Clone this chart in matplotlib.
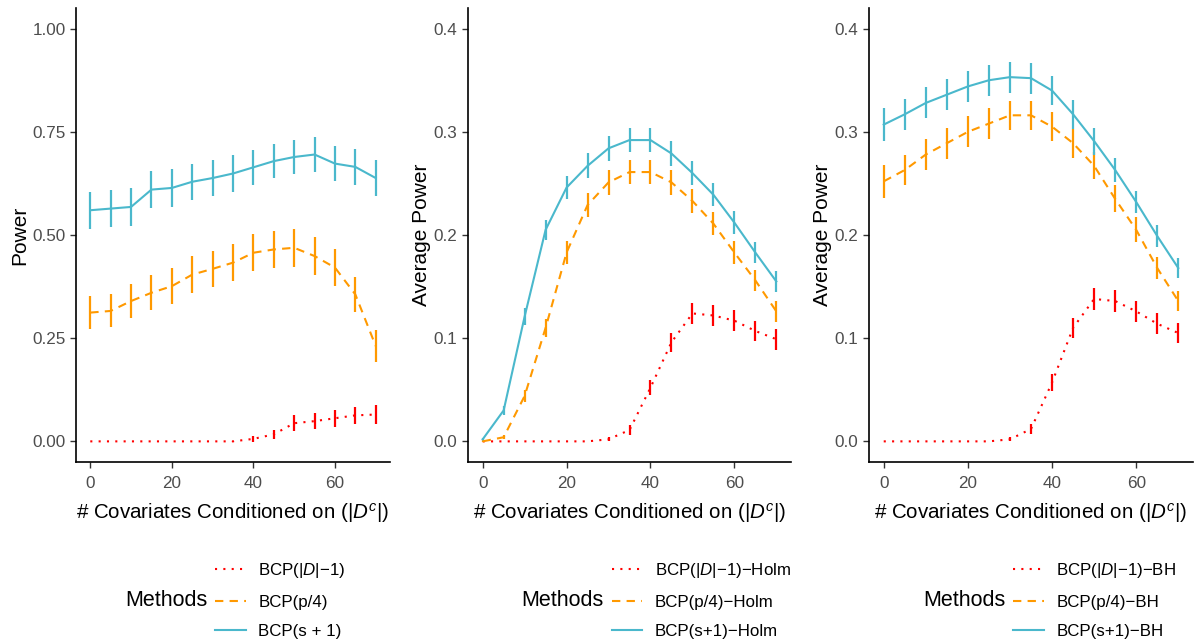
import matplotlib
matplotlib.use('Agg')
import matplotlib.pyplot as plt
from matplotlib.lines import Line2D

plt.rcParams['font.family'] = ['Liberation Sans', 'DejaVu Sans']
plt.rcParams['mathtext.fontset'] = 'custom'
plt.rcParams['mathtext.rm'] = 'Liberation Sans'
plt.rcParams['mathtext.it'] = 'Liberation Sans:italic'

x = [0, 5, 10, 15, 20, 25, 30, 35, 40, 45, 50, 55, 60, 65, 70]

# panel 1: Power
p1_red = [0, 0, 0, 0, 0, 0, 0, 0, 0.006, 0.017, 0.044, 0.049, 0.056, 0.063, 0.065]
p1_red_err = [0, 0, 0, 0, 0, 0, 0, 0.002, 0.008, 0.011, 0.02, 0.019, 0.02, 0.021, 0.022]
p1_orange = [0.312, 0.316, 0.340, 0.360, 0.376, 0.404, 0.418, 0.433, 0.457, 0.465, 0.469, 0.449, 0.421, 0.356, 0.231]
p1_orange_err = [0.04, 0.04, 0.042, 0.042, 0.043, 0.044, 0.044, 0.045, 0.045, 0.045, 0.046, 0.045, 0.045, 0.043, 0.038]
p1_blue = [0.560, 0.564, 0.568, 0.610, 0.614, 0.629, 0.638, 0.649, 0.664, 0.679, 0.689, 0.695, 0.673, 0.665, 0.638]
p1_blue_err = [0.045, 0.045, 0.045, 0.045, 0.045, 0.044, 0.044, 0.044, 0.043, 0.042, 0.042, 0.042, 0.043, 0.043, 0.044]

# panel 2: Holm
p2_red = [0, 0, 0, 0, 0, 0, 0.002, 0.011, 0.052, 0.096, 0.124, 0.122, 0.117, 0.107, 0.099]
p2_red_err = [0, 0, 0, 0, 0, 0, 0.002, 0.005, 0.007, 0.009, 0.01, 0.01, 0.01, 0.01, 0.01]
p2_orange = [0.0, 0.004, 0.044, 0.110, 0.183, 0.229, 0.251, 0.261, 0.261, 0.251, 0.233, 0.211, 0.183, 0.156, 0.126]
p2_orange_err = [0.001, 0.002, 0.006, 0.009, 0.011, 0.012, 0.012, 0.012, 0.012, 0.012, 0.012, 0.011, 0.011, 0.01, 0.01]
p2_blue = [0.002, 0.030, 0.121, 0.205, 0.246, 0.267, 0.284, 0.292, 0.292, 0.279, 0.260, 0.239, 0.212, 0.183, 0.155]
p2_blue_err = [0.001, 0.004, 0.008, 0.01, 0.011, 0.012, 0.012, 0.012, 0.012, 0.012, 0.012, 0.011, 0.011, 0.01, 0.01]

# panel 3: BH
p3_red = [0, 0, 0, 0, 0, 0, 0.002, 0.012, 0.057, 0.110, 0.138, 0.136, 0.126, 0.114, 0.105]
p3_red_err = [0, 0, 0, 0, 0, 0, 0.002, 0.005, 0.008, 0.01, 0.011, 0.011, 0.01, 0.01, 0.01]
p3_orange = [0.252, 0.263, 0.278, 0.289, 0.300, 0.308, 0.316, 0.316, 0.305, 0.289, 0.267, 0.235, 0.205, 0.168, 0.136]
p3_orange_err = [0.016, 0.015, 0.015, 0.015, 0.015, 0.015, 0.014, 0.014, 0.014, 0.014, 0.013, 0.013, 0.012, 0.011, 0.01]
p3_blue = [0.307, 0.317, 0.328, 0.336, 0.344, 0.350, 0.353, 0.352, 0.340, 0.317, 0.291, 0.263, 0.232, 0.199, 0.168]
p3_blue_err = [0.016, 0.015, 0.015, 0.015, 0.015, 0.015, 0.015, 0.015, 0.014, 0.014, 0.013, 0.012, 0.011, 0.011, 0.01]

labels1 = ['BCP(|$D$|\u22121)', 'BCP(p/4)', 'BCP(s + 1)']
labels2 = ['BCP(|$D$|\u22121)\u2212Holm', 'BCP(p/4)\u2212Holm', 'BCP(s+1)\u2212Holm']
labels3 = ['BCP(|$D$|\u22121)\u2212BH', 'BCP(p/4)\u2212BH', 'BCP(s+1)\u2212BH']

red = '#FF0000'
orange = '#FF9900'
blue = '#4AB8CC'
styles = [(red, (0, (1, 3))), (orange, (0, (4, 3))), (blue, '-')]

W, H = 1196, 642
fig = plt.figure(figsize=(W / 100, H / 100), dpi=100)

panels = [
    (76, 390, 'Power', [(p1_red, p1_red_err), (p1_orange, p1_orange_err), (p1_blue, p1_blue_err)],
     (-0.05, 1.05), [0, 0.25, 0.5, 0.75, 1.0], ['0.00', '0.25', '0.50', '0.75', '1.00'], labels1),
    (468, 791, 'Average Power', [(p2_red, p2_red_err), (p2_orange, p2_orange_err), (p2_blue, p2_blue_err)],
     (-0.02, 0.42), [0, 0.1, 0.2, 0.3, 0.4], ['0.0', '0.1', '0.2', '0.3', '0.4'], labels2),
    (869, 1193, 'Average Power', [(p3_red, p3_red_err), (p3_orange, p3_orange_err), (p3_blue, p3_blue_err)],
     (-0.02, 0.42), [0, 0.1, 0.2, 0.3, 0.4], ['0.0', '0.1', '0.2', '0.3', '0.4'], labels3),
]

top, bottom = 8, 462
for left, right, ylab, series, ylim, yt, ytl, labs in panels:
    ax = fig.add_axes([left / W, (H - bottom) / H, (right - left) / W, (bottom - top) / H])
    handles = []
    for (vals, err), (col, ls) in zip(series, styles):
        ax.errorbar(x, vals, yerr=err, fmt='none', ecolor=col, elinewidth=1.6, capsize=0)
        ax.plot(x, vals, color=col, linestyle=ls, linewidth=1.5)
        handles.append(Line2D([], [], color=col, linestyle=ls, linewidth=1.5))
    ax.set_xlim(-3.5, 73.5)
    ax.set_ylim(*ylim)
    ax.set_xticks([0, 20, 40, 60])
    ax.set_yticks(yt)
    ax.set_yticklabels(ytl)
    for s in ['top', 'right']:
        ax.spines[s].set_visible(False)
    for s in ['left', 'bottom']:
        ax.spines[s].set_linewidth(1.2)
    ax.tick_params(colors='#333333', labelcolor='#4D4D4D', labelsize=12.3, length=4, width=1)
    ax.tick_params(axis='x', pad=6)
    ax.set_ylabel(ylab, fontsize=15, labelpad=2)
    ax.set_xlabel('# Covariates Conditioned on (|$D^c$|)', fontsize=14.8, labelpad=7)

    cx = (left + right) / 2
    fig.text((cx - 108) / W, (H - 600) / H, 'Methods', fontsize=15.5, va='center', ha='left')
    fig.legend(handles, labs, loc='center left', bbox_to_anchor=((cx - 18) / W, (H - 600) / H),
               frameon=False, fontsize=12.2, handlelength=1.8, handletextpad=0.75,
               labelspacing=0.88, borderpad=0, borderaxespad=0)

fig.savefig('out.png', dpi=100)
